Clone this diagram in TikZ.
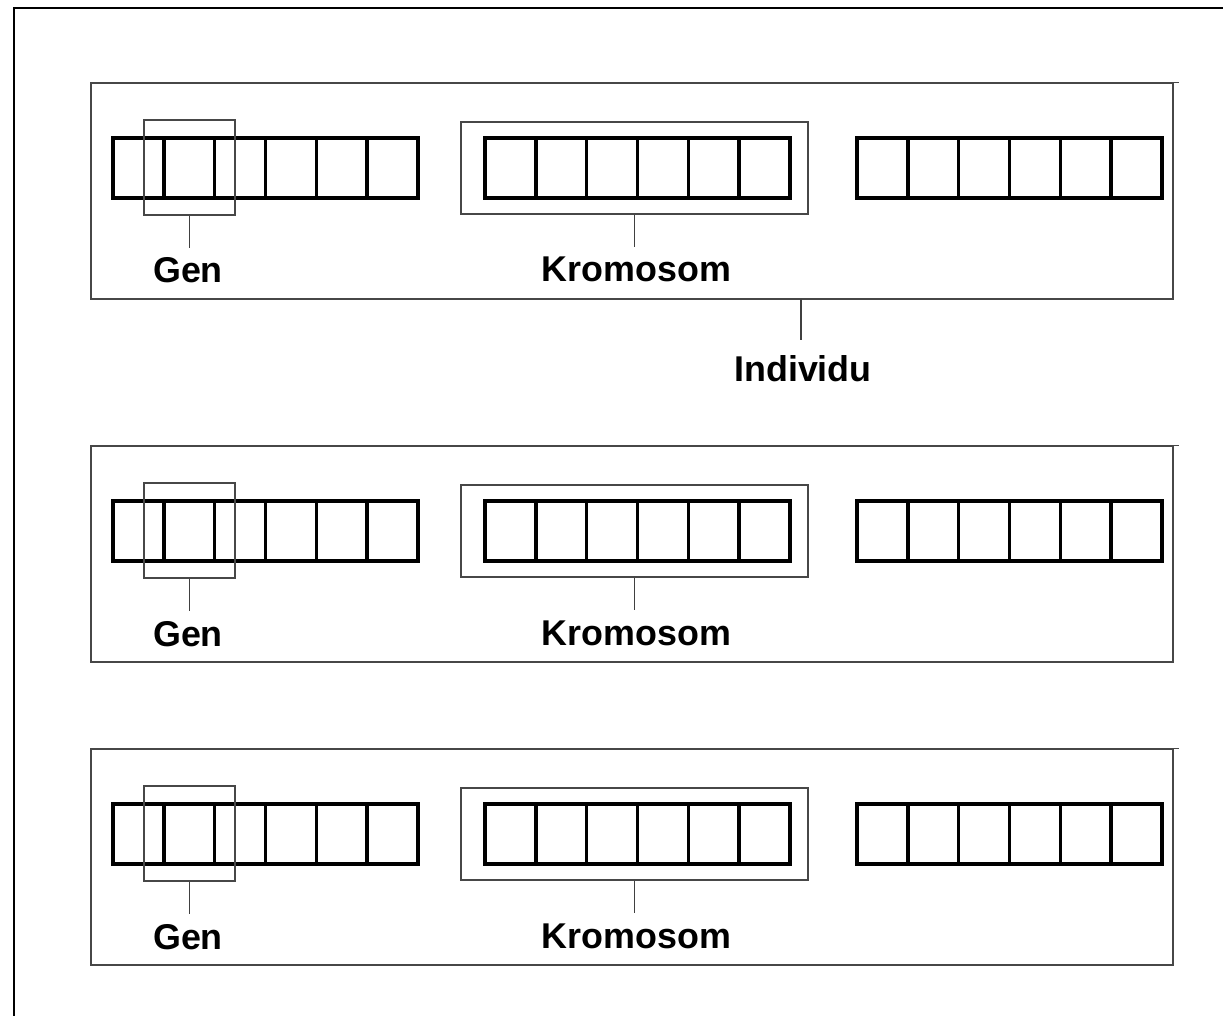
\documentclass[tikz,border=0pt]{standalone}
\usepackage{fontspec}
\setmainfont{Liberation Sans}
\usetikzlibrary{fit}
\begin{document}
\begin{tikzpicture}[x=0.02cm,y=-0.02cm,
  outerframe/.style={line width=1.6pt,black},
  thinbox/.style={draw=black!72,line width=0.75pt,inner sep=0pt},
  cellrow/.style={draw=black,line width=1.9pt},
  lead/.style={draw=black!75,line width=0.6pt},
  lbl/.style={font=\fontsize{20.4}{24}\selectfont\bfseries,inner sep=0pt,anchor=base}]
\useasboundingbox (0,0) rectangle (1223,1016);
\draw[outerframe] (14,1030) -- (14,8) -- (1240,8);
\foreach \r/\o in {1/0,2/363,3/666}{
  % individual box
  \node[thinbox,fit={(91,83+\o) (1173,299+\o)}] (ind\r) {};
  \draw[draw=black!72,line width=0.75pt] (ind\r.north east) -- ++(5,0);
  % chromosomes
  \foreach \cx/\c in {113/a,485/b,857/c}{
    \draw[cellrow] (\cx,138+\o) rectangle ++(305,60);
    \foreach \k in {1,...,5}{
      \draw[cellrow] (\cx+\k*50.83,138+\o) -- ++(0,60);
    }
  }
  % gene box
  \node[thinbox,fit={(144,120+\o) (235,215+\o)}] (genbox\r) {};
  \coordinate (genend\r) at (189.5,248+\o);
  \draw[lead] (genbox\r.south) -- (genend\r);
  \node[lbl] (genlbl\r) at (188,283+\o) {Gen};
  % chromosome box
  \node[thinbox,fit={(461,122+\o) (808,214+\o)}] (krbox\r) {};
  \coordinate (krend\r) at (634.5,247+\o);
  \draw[lead] (krbox\r.south) -- (krend\r);
  \node[lbl] (krlbl\r) at (636.5,282+\o) {Kromosom};
}
% individual label
\coordinate (indstart) at (801,299);
\coordinate (indend) at (801,340);
\draw[lead] (indstart) -- (indend);
\node[lbl] (indlbl) at (803,382) {Individu};
\end{tikzpicture}
\end{document}
